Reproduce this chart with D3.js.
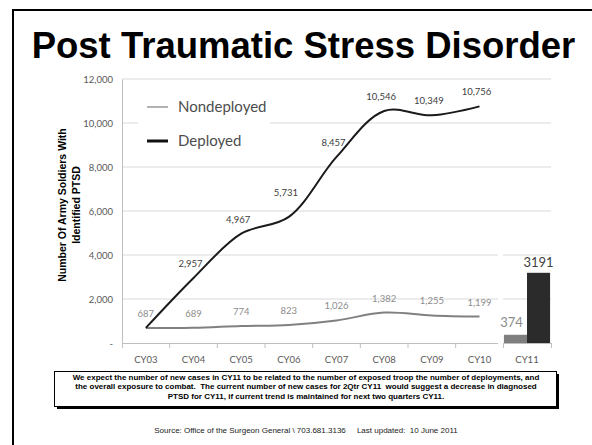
<!DOCTYPE html>
<html>
<meta charset="utf-8">
<title>Post Traumatic Stress Disorder</title>
<style>
  body { margin: 0; background: #fff; }
  svg text { white-space: pre; }
</style>
<body>
<div id="chart"></div>
<script src="https://d3js.org/d3.v7.min.js"></script>
<script>
// values
var years = ["CY03", "CY04", "CY05", "CY06", "CY07", "CY08", "CY09", "CY10"];
var allCats = ["CY03", "CY04", "CY05", "CY06", "CY07", "CY08", "CY09", "CY10", "CY11"];
var nondeployed = [687, 689, 774, 823, 1026, 1382, 1255, 1199];
var deployed = [687, 2957, 4967, 5731, 8457, 10546, 10349, 10756];
var cy11Keys = ["Nondeployed", "Deployed"];
var cy11Values = [374, 3191];
var yTicks = [0, 2000, 4000, 6000, 8000, 10000, 12000];
var noteLines = [
  "We expect the number of new cases in CY11 to be related to the number of exposed troop the number of deployments, and",
  "the overall exposure to combat.  The current number of new cases for 2Qtr CY11  would suggest a decrease in diagnosed",
  "PTSD for CY11, if current trend is maintained for next two quarters CY11."
];

var W = 592, H = 445;
var svg = d3.select("#chart").append("svg").attr("width", W).attr("height", H);
var labelFont = "Lato, 'Open Sans', sans-serif";
var boldFont = "'Liberation Sans', Arial, sans-serif";

// slide frame
svg.append("rect").attr("x", 13).attr("y", 10).attr("width", 620).attr("height", 460)
  .style("fill", "none").style("stroke", "#000").style("stroke-width", 2);

svg.append("text")
  .attr("x", 303.5).attr("y", 58)
  .style("text-anchor", "middle")
  .style("font-family", boldFont)
  .style("font-weight", "bold")
  .style("font-size", "36.5px")
  .text("Post Traumatic Stress Disorder");

// scales (line chart has a 9th empty slot that the CY11 bar chart sits on)
var x = d3.scaleBand().domain(allCats).range([122, 551]);
var y = d3.scaleLinear().domain([0, 12000]).range([343, 79]);

// gridlines
svg.append("g").selectAll("line").data(yTicks.slice(1)).enter().append("line")
  .attr("x1", 122).attr("x2", 551)
  .attr("y1", function (d) { return y(d); }).attr("y2", function (d) { return y(d); })
  .style("stroke", "#d9d9d9").style("stroke-width", 1);

// y axis
var yAxis = svg.append("g").attr("transform", "translate(122,0)")
  .call(d3.axisLeft(y).tickValues(yTicks).tickSize(0).tickPadding(9)
    .tickFormat(function (d) { return d === 0 ? "-" : d3.format(",")(d); }));
yAxis.select(".domain").style("stroke", "#bfbfbf");
yAxis.selectAll("text").style("font-family", labelFont).style("font-size", "9.5px").style("fill", "#595959");

// x axis
var xAxis = svg.append("g").attr("transform", "translate(0,343)");
xAxis.append("line").attr("x1", 122).attr("x2", 551).attr("y1", 0.5).attr("y2", 0.5)
  .style("stroke", "#bfbfbf");
xAxis.selectAll("line.tick").data(allCats).enter().append("line").attr("class", "tick")
  .attr("x1", function (d) { return x(d) + x.bandwidth(); })
  .attr("x2", function (d) { return x(d) + x.bandwidth(); })
  .attr("y1", 0).attr("y2", 5)
  .style("stroke", "#bfbfbf");
xAxis.append("line").attr("x1", 122.5).attr("x2", 122.5).attr("y1", 0).attr("y2", 5).style("stroke", "#bfbfbf");
xAxis.selectAll("text").data(years).enter().append("text")
  .attr("x", function (d) { return x(d) + x.bandwidth() / 2; })
  .attr("y", 20)
  .style("text-anchor", "middle")
  .style("font-family", labelFont).style("font-size", "9.5px").style("fill", "#595959")
  .text(function (d) { return d; });

// lines
var line = d3.line()
  .x(function (d, i) { return x(years[i]) + x.bandwidth() / 2; })
  .y(function (d) { return y(d); })
  .curve(d3.curveCatmullRom);

svg.append("path").datum(nondeployed).attr("d", line)
  .style("fill", "none").style("stroke", "#808080").style("stroke-width", 2);
svg.append("path").datum(deployed).attr("d", line)
  .style("fill", "none").style("stroke", "#1a1a1a").style("stroke-width", 2);

// data labels
svg.append("g").selectAll("text").data(nondeployed).enter().append("text")
  .attr("x", function (d, i) { return x(years[i]) + x.bandwidth() / 2; })
  .attr("y", function (d) { return y(d) - 11; })
  .style("text-anchor", "middle")
  .style("font-family", labelFont).style("font-size", "9.5px").style("fill", "#8c8c8c")
  .text(function (d) { return d3.format(",")(d); });

svg.append("g").selectAll("text").data(deployed.slice(1)).enter().append("text")
  .attr("x", function (d, i) { return x(years[i + 1]) + x.bandwidth() / 2 - 3; })
  .attr("y", function (d, i) { return y(d) - (i === 2 ? 21 : 11); })
  .style("text-anchor", "middle")
  .style("font-family", labelFont).style("font-size", "9.5px").style("fill", "#404040")
  .text(function (d) { return d3.format(",")(d); });

// legend
svg.append("rect").attr("x", 138).attr("y", 92).attr("width", 132).attr("height", 62).style("fill", "#fff");
var legend = svg.append("g");
legend.append("line").attr("x1", 147).attr("x2", 168).attr("y1", 107).attr("y2", 107)
  .style("stroke", "#9a9a9a").style("stroke-width", 1.5);
legend.append("line").attr("x1", 147).attr("x2", 168).attr("y1", 141).attr("y2", 141)
  .style("stroke", "#111").style("stroke-width", 3);
legend.append("text").attr("x", 178).attr("y", 112)
  .style("font-family", labelFont).style("font-size", "15px").style("fill", "#4d4d4d")
  .text("Nondeployed");
legend.append("text").attr("x", 178).attr("y", 146)
  .style("font-family", labelFont).style("font-size", "15px").style("fill", "#4d4d4d")
  .text("Deployed");

// CY11 bar chart overlay
svg.append("rect").attr("x", 498).attr("y", 238).attr("width", 64).attr("height", 132).style("fill", "#fff");
var xb = d3.scaleBand().domain(["CY11"]).range([503, 551]).paddingOuter(0.02);
var xs = d3.scaleBand().domain(cy11Keys).range([0, xb.bandwidth()]);
svg.append("g").selectAll("line").data([2000, 4000]).enter().append("line")
  .attr("x1", 503).attr("x2", 551)
  .attr("y1", function (d) { return y(d); }).attr("y2", function (d) { return y(d); })
  .style("stroke", "#d9d9d9");
svg.append("g").selectAll("rect").data(cy11Values).enter().append("rect")
  .attr("x", function (d, i) { return xb("CY11") + xs(cy11Keys[i]); })
  .attr("y", function (d) { return y(d); })
  .attr("width", xs.bandwidth())
  .attr("height", function (d) { return y(0) - y(d); })
  .style("fill", function (d, i) { return i === 0 ? "#7f7f7f" : "#2b2b2b"; });
svg.append("line").attr("x1", 503).attr("x2", 551).attr("y1", 343.5).attr("y2", 343.5).style("stroke", "#bfbfbf");
svg.append("line").attr("x1", 503.5).attr("x2", 503.5).attr("y1", 343).attr("y2", 348).style("stroke", "#bfbfbf");
svg.append("line").attr("x1", 551.5).attr("x2", 551.5).attr("y1", 343).attr("y2", 348).style("stroke", "#bfbfbf");
svg.append("g").selectAll("text").data(cy11Values).enter().append("text")
  .attr("x", function (d, i) { return xb("CY11") + xs(cy11Keys[i]) + xs.bandwidth() / 2 + (i === 0 ? -4 : 0); })
  .attr("y", function (d, i) { return y(d) - (i === 0 ? 8 : 6); })
  .style("text-anchor", "middle")
  .style("font-family", labelFont).style("font-size", "13px")
  .style("fill", function (d, i) { return i === 0 ? "#8c8c8c" : "#404040"; })
  .text(function (d) { return d; });
svg.append("text").attr("x", 527).attr("y", 363)
  .style("text-anchor", "middle")
  .style("font-family", labelFont).style("font-size", "9.5px").style("fill", "#595959")
  .text("CY11");

// y axis title
var yTitle = svg.append("text")
  .attr("transform", "translate(0,205) rotate(-90)")
  .style("text-anchor", "middle")
  .style("font-family", boldFont).style("font-weight", "bold").style("font-size", "10.5px");
yTitle.append("tspan").attr("x", 0).attr("y", 66).text("Number Of Army Soldiers With");
yTitle.append("tspan").attr("x", 0).attr("y", 80).text("Identified PTSD");

// note box
svg.append("rect").attr("x", 57).attr("y", 374).attr("width", 502).attr("height", 35).style("fill", "#000");
svg.append("rect").attr("x", 54.5).attr("y", 371.5).attr("width", 502).attr("height", 35)
  .style("fill", "#fff").style("stroke", "#000").style("stroke-width", 1);
svg.append("g").selectAll("text").data(noteLines).enter().append("text")
  .attr("x", 306).attr("y", function (d, i) { return 379.5 + i * 9.5; })
  .style("text-anchor", "middle")
  .style("font-family", boldFont).style("font-weight", "bold").style("font-size", "8px")
  .text(function (d) { return d; });

svg.append("text").attr("x", 306).attr("y", 433)
  .style("text-anchor", "middle")
  .style("font-family", boldFont).style("font-size", "8px").style("fill", "#222")
  .text("Source: Office of the Surgeon General \\ 703.681.3136     Last updated:  10 June 2011");
</script>
</body>
</html>
